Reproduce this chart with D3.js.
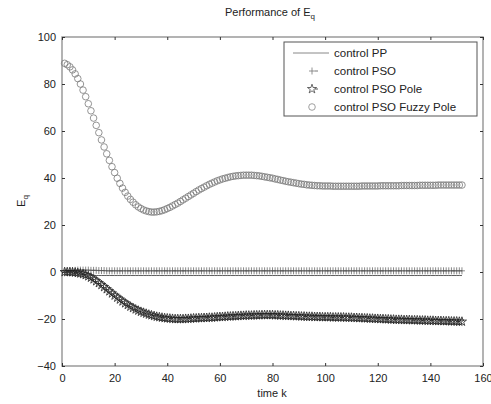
<!DOCTYPE html>
<html>
<head>
<meta charset="utf-8">
<script src="https://cdn.jsdelivr.net/npm/d3@7"></script>
<style>
  body { margin: 0; background: #fff; }
  text { font-family: "Liberation Sans", Arial, sans-serif; fill: #222; }
</style>
</head>
<body>
<div id="chart"></div>
<script>
// data, k = 1..152
var fuzzyPole = [
  88.8,88.2,87.3,86.0,84.3,82.3,80.0,77.4,74.6,71.6,
  68.6,65.5,62.4,59.3,56.2,53.2,50.3,47.5,44.8,42.3,
  39.9,37.7,35.7,33.9,32.3,30.9,29.7,28.6,27.7,27.0,
  26.4,26.0,25.7,25.5,25.5,25.6,25.8,26.1,26.5,27.0,
  27.5,28.1,28.7,29.3,30.0,30.7,31.4,32.1,32.8,33.5,
  34.2,34.9,35.5,36.1,36.7,37.3,37.8,38.3,38.8,39.2,
  39.6,39.9,40.2,40.5,40.7,40.9,41.0,41.1,41.2,41.2,
  41.2,41.2,41.1,41.0,40.9,40.7,40.5,40.3,40.1,39.9,
  39.6,39.4,39.1,38.9,38.6,38.4,38.2,38.0,37.8,37.6,
  37.4,37.3,37.1,37.0,36.9,36.8,36.7,36.7,36.6,36.6,
  36.6,36.6,36.5,36.5,36.5,36.5,36.5,36.5,36.5,36.5,
  36.5,36.5,36.5,36.6,36.6,36.6,36.6,36.6,36.6,36.6,
  36.7,36.7,36.7,36.7,36.7,36.7,36.7,36.7,36.8,36.8,
  36.8,36.8,36.8,36.8,36.8,36.9,36.9,36.9,36.9,36.9,
  36.9,36.9,37.0,37.0,37.0,37.0,37.0,37.0,37.0,37.0,
  37.0,37.0
];

var psoPole = [
  0.0,0.0,0.0,-0.1,-0.2,-0.4,-0.6,-0.9,-1.3,-1.8,
  -2.4,-3.1,-3.9,-4.7,-5.5,-6.4,-7.3,-8.2,-9.1,-10.0,
  -10.9,-11.7,-12.5,-13.3,-14.0,-14.7,-15.3,-15.9,-16.4,-16.9,
  -17.3,-17.7,-18.1,-18.4,-18.7,-19.0,-19.2,-19.4,-19.6,-19.7,
  -19.8,-19.9,-20.0,-20.0,-20.0,-20.0,-19.9,-19.9,-19.8,-19.7,
  -19.7,-19.6,-19.6,-19.5,-19.5,-19.4,-19.4,-19.3,-19.2,-19.1,
  -19.1,-19.0,-18.9,-18.9,-18.8,-18.8,-18.7,-18.6,-18.6,-18.5,
  -18.5,-18.5,-18.4,-18.4,-18.4,-18.3,-18.3,-18.3,-18.3,-18.3,
  -18.4,-18.4,-18.5,-18.5,-18.6,-18.6,-18.7,-18.7,-18.8,-18.8,
  -18.9,-18.9,-19.0,-19.0,-19.0,-19.1,-19.1,-19.1,-19.2,-19.2,
  -19.2,-19.2,-19.3,-19.3,-19.3,-19.3,-19.3,-19.4,-19.4,-19.4,
  -19.5,-19.5,-19.6,-19.6,-19.7,-19.7,-19.8,-19.8,-19.9,-19.9,
  -20.0,-20.0,-20.1,-20.1,-20.2,-20.2,-20.3,-20.3,-20.3,-20.4,
  -20.4,-20.4,-20.5,-20.5,-20.5,-20.6,-20.6,-20.6,-20.7,-20.7,
  -20.7,-20.8,-20.8,-20.8,-20.9,-20.9,-20.9,-21.0,-21.0,-21.0,
  -21.1,-21.1
];

var pso = [
  0.0,0.2,0.4,0.6,0.7,0.8,0.8,0.8,0.8,0.8,
  0.7,0.7,0.7,0.6,0.6,0.6,0.5,0.5,0.5,0.5,
  0.5,0.5,0.5,0.5,0.5,0.5,0.5,0.5,0.5,0.5,
  0.5,0.5,0.5,0.5,0.5,0.5,0.5,0.5,0.5,0.5,
  0.5,0.5,0.5,0.5,0.5,0.5,0.5,0.5,0.5,0.5,
  0.5,0.5,0.5,0.5,0.5,0.5,0.5,0.5,0.5,0.5,
  0.5,0.5,0.5,0.5,0.5,0.5,0.5,0.5,0.5,0.5,
  0.5,0.5,0.5,0.5,0.5,0.5,0.5,0.5,0.5,0.5,
  0.5,0.5,0.5,0.5,0.5,0.5,0.5,0.5,0.5,0.5,
  0.5,0.5,0.5,0.5,0.5,0.5,0.5,0.5,0.5,0.5,
  0.5,0.5,0.5,0.5,0.5,0.5,0.5,0.5,0.5,0.5,
  0.5,0.5,0.5,0.5,0.5,0.5,0.5,0.5,0.5,0.5,
  0.5,0.5,0.5,0.5,0.5,0.5,0.5,0.5,0.5,0.5,
  0.5,0.5,0.5,0.5,0.5,0.5,0.5,0.5,0.5,0.5,
  0.5,0.5,0.5,0.5,0.5,0.5,0.5,0.5,0.5,0.5,
  0.5,0.5
];

var pp = [
  0.0,-0.1,-0.2,-0.4,-0.6,-0.8,-1.0,-1.1,-1.2,-1.3,
  -1.4,-1.4,-1.5,-1.5,-1.5,-1.5,-1.5,-1.5,-1.5,-1.5,
  -1.5,-1.5,-1.5,-1.5,-1.5,-1.5,-1.5,-1.5,-1.5,-1.5,
  -1.5,-1.5,-1.5,-1.5,-1.5,-1.5,-1.5,-1.5,-1.5,-1.5,
  -1.5,-1.5,-1.5,-1.5,-1.5,-1.5,-1.5,-1.5,-1.5,-1.5,
  -1.5,-1.5,-1.5,-1.5,-1.5,-1.5,-1.5,-1.5,-1.5,-1.5,
  -1.5,-1.5,-1.5,-1.5,-1.5,-1.5,-1.5,-1.5,-1.5,-1.5,
  -1.5,-1.5,-1.5,-1.5,-1.5,-1.5,-1.5,-1.5,-1.5,-1.5,
  -1.5,-1.5,-1.5,-1.5,-1.5,-1.5,-1.5,-1.5,-1.5,-1.5,
  -1.5,-1.5,-1.5,-1.5,-1.5,-1.5,-1.5,-1.5,-1.5,-1.5,
  -1.5,-1.5,-1.5,-1.5,-1.5,-1.5,-1.5,-1.5,-1.5,-1.5,
  -1.5,-1.5,-1.5,-1.5,-1.5,-1.5,-1.5,-1.5,-1.5,-1.5,
  -1.5,-1.5,-1.5,-1.5,-1.5,-1.5,-1.5,-1.5,-1.5,-1.5,
  -1.5,-1.5,-1.5,-1.5,-1.5,-1.5,-1.5,-1.5,-1.5,-1.5,
  -1.5,-1.5,-1.5,-1.5,-1.5,-1.5,-1.5,-1.5,-1.5,-1.5,
  -1.5,-1.5
];

var xTicks = [0, 20, 40, 60, 80, 100, 120, 140, 160];
var yTicks = [-40, -20, 0, 20, 40, 60, 80, 100];
var legendLabels = ["control PP", "control PSO", "control PSO Pole", "control PSO Fuzzy Pole"];

// layout
var margin = {top: 37, right: 8, bottom: 38, left: 62};
var W = 491, H = 404;
var width = W - margin.left - margin.right;
var height = H - margin.top - margin.bottom;

var svg = d3.select("#chart").append("svg")
    .attr("width", W)
    .attr("height", H);

var g = svg.append("g")
    .attr("transform", "translate(" + margin.left + "," + margin.top + ")");

var x = d3.scaleLinear().domain([0, 160]).range([0, width]);
var y = d3.scaleLinear().domain([-40, 100]).range([height, 0]);

function toPts(arr) {
  return arr.map(function(v, i) { return [i + 1, v]; });
}

var line = d3.line()
    .x(function(d) { return x(d[0]); })
    .y(function(d) { return y(d[1]); });

// frame
g.append("rect")
    .attr("width", width).attr("height", height)
    .attr("fill", "none").attr("stroke", "#9a9a9a").attr("stroke-width", 1.5);

// axes with inner ticks
var tickLen = 3;
g.append("g").attr("transform", "translate(0," + height + ")")
    .call(d3.axisBottom(x).tickValues(xTicks).tickSizeInner(-tickLen).tickSizeOuter(0).tickPadding(8))
    .call(function(a) { a.select(".domain").remove(); });
g.append("g")
    .call(d3.axisTop(x).tickValues(xTicks).tickSizeInner(-tickLen).tickSizeOuter(0).tickFormat(""))
    .call(function(a) { a.select(".domain").remove(); });
g.append("g")
    .call(d3.axisLeft(y).tickValues(yTicks).tickSizeInner(-tickLen).tickSizeOuter(0).tickPadding(6))
    .call(function(a) { a.select(".domain").remove(); });
g.append("g").attr("transform", "translate(" + width + ",0)")
    .call(d3.axisRight(y).tickValues(yTicks).tickSizeInner(-tickLen).tickSizeOuter(0).tickFormat(""))
    .call(function(a) { a.select(".domain").remove(); });

g.selectAll(".tick line").attr("stroke", "#333");
g.selectAll(".tick text").attr("font-size", 11).attr("fill", "#222")
    .style("font-family", "'Liberation Sans', Arial, sans-serif");

// series lines
g.append("path").datum(toPts(pp))
    .attr("d", line).attr("fill", "none").attr("stroke", "#333").attr("stroke-width", 0.8);
g.append("path").datum(toPts(pso))
    .attr("d", line).attr("fill", "none").attr("stroke", "#555").attr("stroke-width", 0.7)
    .attr("stroke-dasharray", "4,2,1,2");
g.append("path").datum(toPts(psoPole))
    .attr("d", line).attr("fill", "none").attr("stroke", "#222").attr("stroke-width", 0.9)
    .attr("stroke-dasharray", "4,2,1,2");

// markers
var plusPath = "M-3,0H3M0,-3.5V3.5";
var star = d3.symbol().type(d3.symbolStar).size(26);

g.append("g").selectAll("path").data(toPts(pso)).join("path")
    .attr("transform", function(d) { return "translate(" + x(d[0]) + "," + y(d[1]) + ")"; })
    .attr("d", plusPath).attr("fill", "none").attr("stroke", "#555").attr("stroke-width", 0.7);

g.append("g").selectAll("path").data(toPts(psoPole)).join("path")
    .attr("transform", function(d) { return "translate(" + x(d[0]) + "," + y(d[1]) + ")"; })
    .attr("d", star).attr("fill", "none").attr("stroke", "#222").attr("stroke-width", 0.8);

g.append("g").selectAll("circle").data(toPts(fuzzyPole)).join("circle")
    .attr("cx", function(d) { return x(d[0]); })
    .attr("cy", function(d) { return y(d[1]); })
    .attr("r", 3.3).attr("fill", "none").attr("stroke", "#7a7a7a").attr("stroke-width", 0.8);

// legend
var lg = svg.append("g").attr("transform", "translate(284,42)");
lg.append("rect").attr("width", 193).attr("height", 74)
    .attr("fill", "#fff").attr("stroke", "#555").attr("stroke-width", 1);
var rowY = function(i) { return 11 + i * 18; };
lg.append("line").attr("x1", 9).attr("x2", 45).attr("y1", rowY(0)).attr("y2", rowY(0))
    .attr("stroke", "#888").attr("stroke-width", 1);
lg.append("path").attr("transform", "translate(28," + rowY(1) + ")")
    .attr("d", plusPath).attr("fill", "none").attr("stroke", "#777").attr("stroke-width", 0.8);
lg.append("line").attr("x1", 31).attr("x2", 34).attr("y1", rowY(1)).attr("y2", rowY(1)).attr("stroke", "#777");
lg.append("path").attr("transform", "translate(28," + rowY(2) + ")")
    .attr("d", star).attr("fill", "none").attr("stroke", "#444").attr("stroke-width", 0.8);
lg.append("line").attr("x1", 31).attr("x2", 34).attr("y1", rowY(2)).attr("y2", rowY(2)).attr("stroke", "#555");
lg.append("circle").attr("cx", 28).attr("cy", rowY(3)).attr("r", 3.3)
    .attr("fill", "none").attr("stroke", "#888").attr("stroke-width", 0.8);
lg.selectAll("text.lab").data(legendLabels).join("text").attr("class", "lab")
    .attr("x", 50).attr("y", function(d, i) { return rowY(i) + 4; })
    .attr("font-size", 11.5).text(function(d) { return d; });

// title and axis labels
var title = svg.append("text").attr("x", 270).attr("y", 16).attr("text-anchor", "middle").attr("font-size", 11);
title.append("tspan").text("Performance of E");
title.append("tspan").attr("font-size", 8).attr("dy", 3).text("q");

svg.append("text").attr("x", 272).attr("y", 397).attr("text-anchor", "middle")
    .attr("font-size", 11).text("time k");

var yl = svg.append("text").attr("transform", "translate(25,201) rotate(-90)")
    .attr("text-anchor", "middle").attr("font-size", 11);
yl.append("tspan").text("E");
yl.append("tspan").attr("font-size", 8).attr("dy", 3).text("q");
</script>
</body>
</html>
